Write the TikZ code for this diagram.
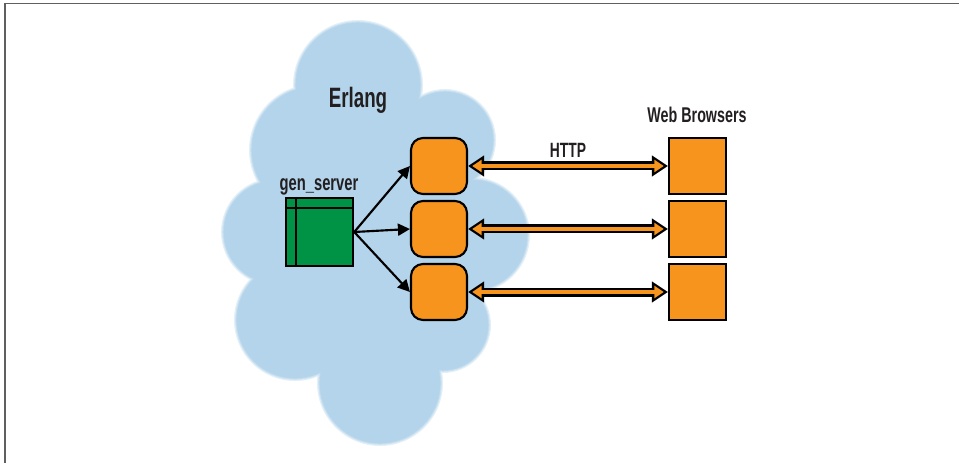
\documentclass[tikz,border=0pt]{standalone}
\usepackage{fontspec}
\setmainfont[FakeStretch=0.67]{Liberation Sans}
\usetikzlibrary{arrows.meta,calc}
\definecolor{cloudblue}{RGB}{179,212,234}
\definecolor{procorange}{RGB}{247,148,30}
\definecolor{srvgreen}{RGB}{0,146,69}
\definecolor{framegray}{RGB}{95,95,95}
\definecolor{inkdark}{RGB}{35,31,32}
\newcommand\cloudshape[1]{%
  (358,85) circle[radius=62+#1]
  (315,150) circle[radius=63+#1]
  (445,140) circle[radius=48+#1]
  (275,232) circle[radius=51+#1]
  (472,235) circle[radius=55+#1]
  (295,320) circle[radius=58+#1]
  (443,325) circle[radius=45+#1]
  (380,383) circle[radius=60+#1]}
\begin{document}
\begin{tikzpicture}[x=0.75pt,y=-0.75pt,
  proc/.style={draw=black, line width=1.6pt, fill=procorange, rounded corners=9pt,
    minimum width=42pt, minimum height=42pt, inner sep=0pt},
  browser/.style={draw=black, line width=1.6pt, fill=procorange,
    minimum width=42.75pt, minimum height=42pt, inner sep=0pt},
  server/.style={draw=black, line width=1.6pt, fill=srvgreen,
    minimum width=50.5pt, minimum height=51pt, inner sep=0pt},
  txt/.style={inner sep=0pt, text=inkdark, anchor=base},
  call/.style={draw=black, line width=1.6pt, -{Triangle[length=9pt,width=9pt]}},
  httpout/.style={draw=black, line width=6.75pt,
    {Triangle[length=12pt,width=15pt]}-{Triangle[length=12pt,width=15pt]}},
  httpin/.style={draw=procorange, line width=3.4pt,
    {Triangle[length=7.1pt,width=9pt]}-{Triangle[length=7.1pt,width=9pt]},
    shorten <=3.15pt, shorten >=3.15pt},
  framestyle/.style={draw=framegray, line width=1.2pt},
]
\useasboundingbox (0,0) rectangle (959,463);
% frame
\draw[framestyle] (5,463) -- (5,3.5) -- (959,3.5);
% cloud with soft edge
\fill[cloudblue!35!white] \cloudshape{3};
\fill[cloudblue!65!white] \cloudshape{1.8};
\fill[cloudblue!88!white] \cloudshape{0.8};
\fill[cloudblue] \cloudshape{0};
\fill[cloudblue] (358,85) -- (445,140) -- (472,235) -- (443,325) -- (380,383)
  -- (295,320) -- (275,232) -- (315,150) -- cycle;
% labels
\node[txt, font=\bfseries\fontsize{21}{25}\selectfont] (erl) at (358,108) {Erlang};
\node[txt, font=\bfseries\fontsize{16.5}{19}\selectfont] (gs) at (319,191) {gen\_server};
\node[txt, font=\bfseries\fontsize{16}{19}\selectfont] (wb) at (697,123) {Web Browsers};
\node[txt, font=\bfseries\fontsize{15.5}{18}\selectfont] (http) at (568,158) {HTTP};
% server
\node[server] (g) at (319.5,232) {};
\draw[line width=1.6pt] ($(g.north west)+(11,0)$) -- ($(g.south west)+(11,0)$);
\draw[line width=1.6pt] ($(g.north west)+(0,11)$) -- ($(g.north east)+(0,11)$);
% processes
\node[proc] (o1) at (439,166) {};
\node[proc] (o2) at (439,229) {};
\node[proc] (o3) at (439,292) {};
% browsers
\node[browser] (b1) at (697.5,166) {};
\node[browser] (b2) at (697.5,229) {};
\node[browser] (b3) at (697.5,292) {};
% calls
\draw[call] (g.east) -- (o1.west);
\draw[call] (g.east) -- (o2.west);
\draw[call] (g.east) -- (o3.west);
% http links
\foreach \i in {1,2,3}{
  \draw[httpout] (o\i.east) -- (b\i.west);
  \draw[httpin] (o\i.east) -- (b\i.west);
}
\end{tikzpicture}
\end{document}
